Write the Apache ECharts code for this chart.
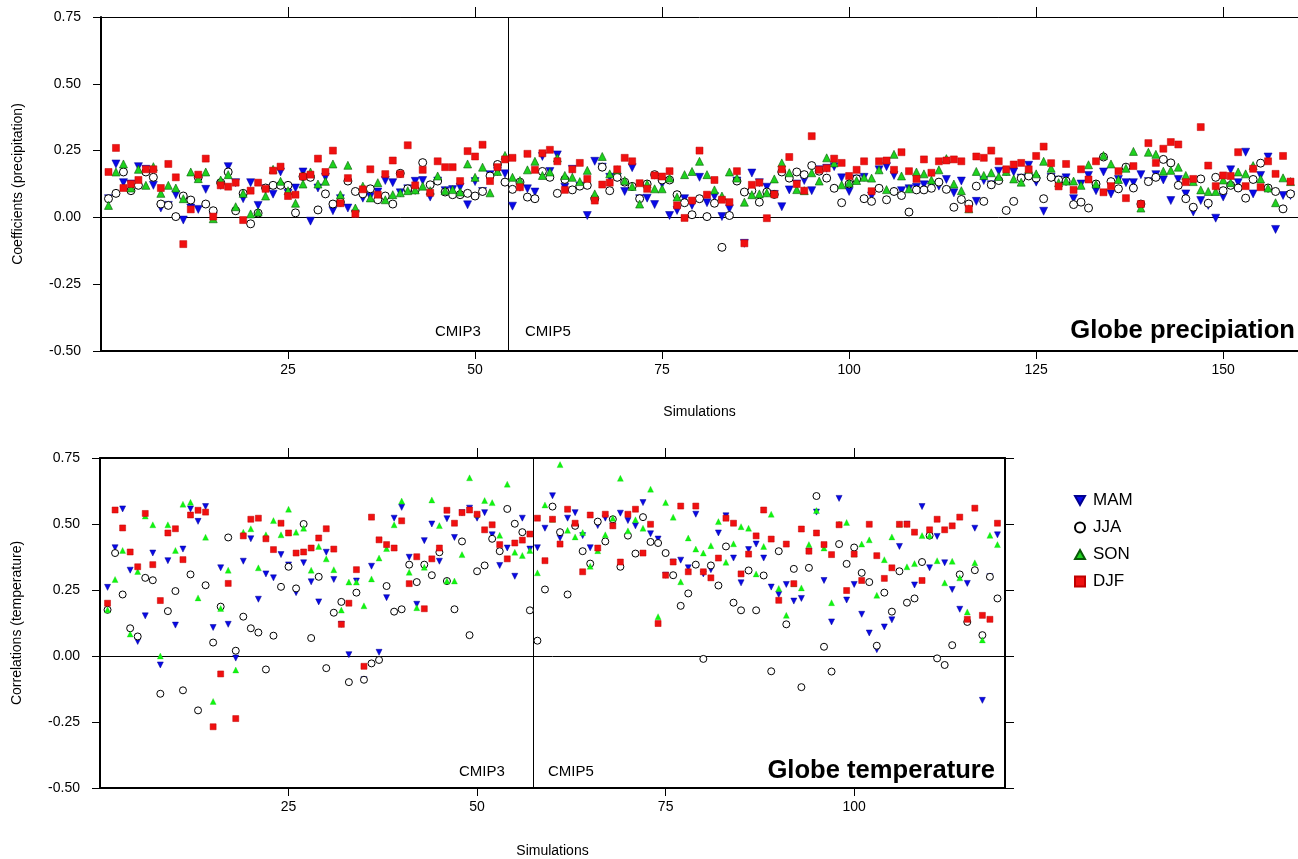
<!DOCTYPE html>
<html>
<head>
<meta charset="utf-8">
<title>Globe precipitation / temperature</title>
<script src="https://cdn.jsdelivr.net/npm/echarts@6/dist/echarts.min.js"></script>
<style>
  html, body { margin: 0; padding: 0; background: #fff; }
  #chart { width: 1298px; height: 859px; }
</style>
</head>
<body>
<div id="chart"></div>
<script>
// precipitation coefficients, simulations 1..159
var precipMAM = [0.07,0.20,0.13,0.125,0.19,0.18,0.12,0.035,0.045,0.085,-0.01,0.035,0.03,0.105,0.003,0.12,0.19,0.13,0.07,0.13,
  0.045,0.107,0.087,0.17,0.09,0.11,0.17,-0.014,0.11,0.15,0.025,0.07,0.035,0.013,0.072,0.078,0.095,0.138,0.13,0.092,
  0.107,0.135,0.138,0.076,0.136,0.10,0.104,0.113,0.047,0.134,0.097,0.16,0.172,0.163,0.042,0.113,0.107,0.095,0.228,0.172,
  0.234,0.113,0.18,0.117,0.007,0.21,0.188,0.15,0.15,0.097,0.186,0.07,0.072,0.048,0.125,0.007,0.026,0.07,0.045,0.15,
  0.055,0.078,0.003,0.032,0.136,-0.097,0.166,0.13,0.113,0.086,0.04,0.103,0.125,0.138,0.10,0.178,0.184,0.19,0.148,0.097,
  0.144,0.15,0.08,0.178,0.19,0.157,0.10,0.107,0.113,0.122,0.12,0.117,0.142,0.092,0.136,0.032,0.06,0.138,0.122,0.173,
  0.172,0.17,0.147,0.195,0.132,0.023,0.15,0.14,0.148,0.07,0.125,0.157,0.10,0.17,0.088,0.142,0.13,0.13,0.16,0.134,
  0.16,0.14,0.063,0.142,0.088,0.02,0.063,0.045,-0.003,0.076,0.178,0.13,0.244,0.088,0.157,0.226,-0.045,0.082,0.082];
var precipJJA = [0.07,0.09,0.17,0.10,0.12,0.17,0.15,0.05,0.045,0.003,0.08,0.065,0.15,0.05,0.025,0.13,0.17,0.025,0.09,-0.024,
  0.016,0.11,0.12,0.12,0.12,0.017,0.153,0.15,0.028,0.088,0.05,0.057,0.136,0.097,0.088,0.107,0.066,0.08,0.05,0.165,
  0.107,0.103,0.205,0.122,0.136,0.095,0.085,0.085,0.09,0.08,0.097,0.155,0.198,0.132,0.105,0.132,0.076,0.07,0.172,0.15,
  0.09,0.142,0.103,0.117,0.12,0.07,0.188,0.10,0.15,0.132,0.116,0.07,0.125,0.16,0.14,0.14,0.085,0.055,0.01,0.07,
  0.003,0.053,-0.112,0.007,0.136,0.095,0.10,0.057,0.095,0.086,0.17,0.147,0.17,0.16,0.194,0.173,0.147,0.109,0.055,0.125,
  0.144,0.07,0.06,0.109,0.066,0.097,0.082,0.02,0.103,0.103,0.109,0.132,0.105,0.038,0.067,0.05,0.117,0.06,0.122,0.138,
  0.026,0.06,0.147,0.155,0.147,0.07,0.15,0.14,0.136,0.048,0.057,0.035,0.125,0.226,0.134,0.107,0.188,0.11,0.05,0.134,
  0.15,0.217,0.204,0.12,0.07,0.038,0.144,0.053,0.15,0.10,0.12,0.11,0.072,0.142,0.203,0.11,0.097,0.032,0.088];
var precipSON = [0.045,0.17,0.20,0.11,0.18,0.12,0.19,0.09,0.12,0.11,0.07,0.17,0.145,0.17,-0.005,0.14,0.16,0.04,0.09,0.013,
  0.02,0.08,0.18,0.135,0.10,0.053,0.125,0.17,0.125,0.135,0.20,0.085,0.195,0.035,0.117,0.073,0.13,0.066,0.085,0.092,
  0.10,0.103,0.117,0.10,0.155,0.10,0.104,0.095,0.20,0.15,0.188,0.092,0.172,0.232,0.15,0.138,0.178,0.21,0.157,0.17,
  0.223,0.157,0.15,0.134,0.176,0.088,0.228,0.163,0.178,0.138,0.116,0.05,0.125,0.107,0.107,0.147,0.076,0.16,0.172,0.21,
  0.16,0.103,0.08,0.17,0.147,0.057,0.085,0.088,0.092,0.144,0.204,0.167,0.104,0.10,0.167,0.136,0.223,0.204,0.122,0.13,
  0.138,0.15,0.147,0.178,0.104,0.236,0.155,0.107,0.17,0.163,0.14,0.178,0.22,0.125,0.10,0.032,0.172,0.157,0.167,0.153,
  0.172,0.144,0.132,0.18,0.163,0.21,0.184,0.13,0.136,0.136,0.12,0.197,0.125,0.232,0.20,0.142,0.184,0.247,0.035,0.244,
  0.236,0.173,0.176,0.188,0.157,0.134,0.103,0.097,0.097,0.14,0.13,0.17,0.163,0.194,0.144,0.11,0.055,0.148,0.134];
var precipDJF = [0.17,0.26,0.11,0.125,0.14,0.18,0.18,0.11,0.20,0.15,-0.10,0.03,0.16,0.22,0.003,0.12,0.115,0.13,-0.01,0.10,
  0.13,0.107,0.175,0.19,0.08,0.085,0.153,0.16,0.22,0.17,0.25,0.053,0.147,0.013,0.105,0.18,0.085,0.162,0.213,0.162,
  0.27,0.12,0.178,0.092,0.21,0.188,0.188,0.136,0.248,0.228,0.272,0.136,0.188,0.217,0.223,0.113,0.238,0.178,0.24,0.253,
  0.21,0.103,0.18,0.204,0.144,0.063,0.123,0.13,0.18,0.223,0.21,0.128,0.107,0.157,0.153,0.173,0.045,-0.002,0.063,0.25,
  0.085,0.14,0.066,0.057,0.173,-0.097,0.122,0.13,-0.003,0.086,0.18,0.226,0.125,0.10,0.304,0.178,0.184,0.22,0.204,0.155,
  0.178,0.21,0.098,0.21,0.213,0.178,0.244,0.173,0.144,0.217,0.167,0.21,0.213,0.217,0.21,0.032,0.228,0.223,0.25,0.21,
  0.18,0.198,0.204,0.18,0.23,0.265,0.203,0.116,0.2,0.103,0.18,0.142,0.21,0.094,0.117,0.173,0.072,0.192,0.05,0.278,
  0.204,0.257,0.282,0.273,0.132,0.144,0.338,0.194,0.117,0.157,0.155,0.244,0.117,0.182,0.113,0.21,0.163,0.23,0.134];

// temperature correlations, simulations 1..119
var tempMAM = [0.26,0.41,0.557,0.325,0.055,0.152,0.39,-0.034,0.361,0.117,0.405,0.557,0.51,0.566,0.108,0.334,0.12,-0.008,0.359,0.444,
  0.215,0.311,0.296,0.384,0.345,0.24,0.353,0.281,0.205,0.393,0.29,0.12,0.005,0.284,-0.09,0.34,0.014,0.221,0.522,0.563,
  0.374,0.196,0.437,0.5,0.359,0.52,0.449,0.543,0.56,0.522,0.543,0.459,0.343,0.409,0.302,0.522,0.405,0.41,0.484,0.607,
  0.447,0.522,0.543,0.456,0.41,0.494,0.522,0.493,0.541,0.513,0.493,0.581,0.463,0.443,0.306,0.356,0.363,0.334,0.537,0.311,
  0.327,0.466,0.531,0.371,0.277,0.403,0.424,0.371,0.261,0.233,0.271,0.208,0.218,0.397,0.545,0.286,0.129,0.597,0.212,0.271,
  0.158,0.087,0.024,0.11,0.137,0.415,0.499,0.269,0.566,0.334,0.453,0.353,0.252,0.177,0.275,0.484,-0.168,0.3,0.459];
var tempJJA = [0.175,0.39,0.233,0.105,0.074,0.296,0.287,-0.143,0.17,0.246,-0.13,0.309,-0.206,0.268,0.051,0.187,0.449,0.02,0.149,0.105,
  0.089,-0.051,0.077,0.262,0.338,0.256,0.5,0.068,0.3,-0.046,0.164,0.205,-0.099,0.24,-0.09,-0.028,-0.015,0.265,0.168,0.177,
  0.346,0.28,0.346,0.306,0.393,0.284,0.177,0.434,0.079,0.321,0.343,0.444,0.397,0.557,0.501,0.469,0.173,0.058,0.252,0.566,
  0.469,0.233,0.493,0.397,0.35,0.509,0.434,0.518,0.338,0.456,0.388,0.526,0.432,0.428,0.39,0.306,0.19,0.237,0.346,-0.011,
  0.343,0.267,0.415,0.202,0.173,0.324,0.173,0.305,-0.058,0.397,0.12,0.33,-0.118,0.334,0.606,0.035,-0.059,0.424,0.349,0.411,
  0.315,0.28,0.039,0.24,0.168,0.321,0.202,0.218,0.356,0.456,-0.009,-0.034,0.041,0.309,0.129,0.325,0.079,0.3,0.218];
var tempSON = [0.175,0.29,0.4,0.083,0.32,0.53,0.497,0.0,0.497,0.4,0.575,0.582,0.22,0.45,-0.172,0.18,0.325,-0.053,0.469,0.482,
  0.334,0.459,0.513,0.459,0.556,0.469,0.484,0.325,0.415,0.368,0.327,0.174,0.28,0.28,0.19,0.292,0.371,0.407,0.497,0.587,
  0.317,0.183,0.336,0.591,0.494,0.284,0.284,0.384,0.675,0.537,0.589,0.581,0.457,0.651,0.393,0.381,0.4,0.315,0.572,0.518,
  0.725,0.476,0.451,0.468,0.34,0.399,0.459,0.522,0.673,0.474,0.516,0.484,0.632,0.149,0.581,0.526,0.281,0.447,0.405,0.39,
  0.418,0.509,0.355,0.425,0.49,0.484,0.311,0.415,0.537,0.256,0.154,0.274,0.258,0.422,0.551,0.409,0.202,0.5,0.506,0.386,
  0.424,0.44,0.23,0.365,0.451,0.499,0.338,0.35,0.456,0.456,0.361,0.277,0.359,0.296,0.167,0.353,0.061,0.457,0.422];
var tempDJF = [0.2,0.553,0.485,0.394,0.338,0.54,0.346,0.21,0.466,0.482,0.365,0.534,0.552,0.545,-0.268,-0.068,0.275,-0.237,0.455,0.518,
  0.522,0.444,0.403,0.503,0.466,0.39,0.394,0.409,0.447,0.482,0.405,0.12,0.2,0.327,-0.039,0.526,0.44,0.422,0.409,0.512,
  0.274,0.376,0.179,0.368,0.409,0.552,0.503,0.543,0.553,0.537,0.478,0.497,0.422,0.368,0.428,0.439,0.462,0.522,0.361,0.518,
  0.424,0.556,0.503,0.319,0.534,0.409,0.537,0.493,0.356,0.537,0.556,0.39,0.499,0.123,0.306,0.356,0.568,0.319,0.568,0.319,
  0.296,0.371,0.522,0.503,0.311,0.386,0.455,0.553,0.443,0.211,0.424,0.274,0.481,0.397,0.466,0.422,0.384,0.497,0.248,0.386,
  0.286,0.499,0.38,0.294,0.334,0.499,0.499,0.469,0.286,0.478,0.518,0.478,0.493,0.526,0.139,0.56,0.154,0.139,0.503];

var seasons = ['MAM', 'JJA', 'SON', 'DJF'];
var xTicks = [25, 50, 75, 100, 125, 150];
var splitPrecip = 54.5; // CMIP3 | CMIP5
var splitTemp = 57.5;

var chart = echarts.init(document.getElementById('chart'));

var FONT = '"Liberation Sans", Arial, sans-serif';
var downTri = 'path://M0,0L10,0L5,9Z';
var upTri = 'path://M5,0L10,9L0,9Z';

function pts(arr) {
  return arr.map(function (v, i) { return [i + 1, v]; });
}

function xAxes(grid, max, gap) {
  var ticks = xTicks.filter(function (t) { return t < max; });
  return [{
    gridIndex: grid, type: 'value', min: 0, max: max, interval: 25,
    position: 'bottom',
    name: 'Simulations', nameLocation: 'middle', nameGap: gap,
    nameTextStyle: { color: '#000', fontSize: 14, fontFamily: FONT },
    axisLine: { onZero: false, lineStyle: { color: '#000', width: 2 } },
    axisTick: { length: 8, customValues: ticks, lineStyle: { color: '#000', width: 1 } },
    axisLabel: { color: '#000', fontSize: 14, fontFamily: FONT, margin: 12, customValues: ticks },
    splitLine: { show: false }
  }, {
    gridIndex: grid, type: 'value', min: 0, max: max, interval: 25,
    position: 'top',
    axisLine: { onZero: false, lineStyle: { color: '#000', width: grid === 0 ? 1 : 2 } },
    axisTick: { length: 10, customValues: ticks, lineStyle: { color: '#000', width: 1 } },
    axisLabel: { show: false },
    splitLine: { show: false }
  }];
}

function yAxes(grid, name, rightAxis) {
  var ax = [{
    gridIndex: grid, type: 'value', min: -0.5, max: 0.75, interval: 0.25,
    name: name, nameLocation: 'middle', nameGap: 76,
    nameTextStyle: { color: '#000', fontSize: 14, fontFamily: FONT },
    axisLine: { onZero: false, lineStyle: { color: '#000', width: 2 } },
    axisTick: { length: 8, lineStyle: { color: '#000', width: 1 } },
    axisLabel: {
      color: '#000', fontSize: 14, fontFamily: FONT, margin: 20,
      formatter: function (v) { return v.toFixed(2); }
    },
    splitLine: { show: false }
  }];
  if (rightAxis) {
    ax.push({
      gridIndex: grid, type: 'value', min: -0.5, max: 0.75, interval: 0.25,
      position: 'right',
      axisLine: { onZero: false, lineStyle: { color: '#000', width: 2 } },
      axisTick: { length: 9, lineStyle: { color: '#000', width: 1 } },
      axisLabel: { show: false },
      splitLine: { show: false }
    });
  }
  return ax;
}

var styles = {
  MAM: { symbol: downTri, itemStyle: { color: '#0808e8', borderColor: '#000090', borderWidth: 0.5, opacity: 1 } },
  JJA: { symbol: 'circle', itemStyle: { color: '#fff', borderColor: '#000', borderWidth: 1, opacity: 1 } },
  SON: { symbol: upTri, itemStyle: { color: '#1ed21e', borderColor: '#075a07', borderWidth: 0.6, opacity: 1 } },
  DJF: { symbol: 'rect', itemStyle: { color: '#f01010', borderColor: '#c00000', borderWidth: 0.5, opacity: 1 } }
};
var sonBottom = { color: '#10f510', borderColor: '#10c810', borderWidth: 0.3, opacity: 1 };
var sizeTop = { MAM: 8, JJA: 8, SON: 8, DJF: 7 };
var sizeBot = { MAM: 6, JJA: 7, SON: 6, DJF: 6 };

var precip = { MAM: precipMAM, JJA: precipJJA, SON: precipSON, DJF: precipDJF };
var temp = { MAM: tempMAM, JJA: tempJJA, SON: tempSON, DJF: tempDJF };

function refLines(split) {
  return {
    silent: true, symbol: 'none', animation: false, z: 1,
    label: { show: false },
    lineStyle: { color: '#000', width: 1, type: 'solid', opacity: 1 },
    data: [{ yAxis: 0 }, { xAxis: split }]
  };
}

var series = [];
seasons.forEach(function (s, k) {
  var top = {
    name: s, type: 'scatter', xAxisIndex: 0, yAxisIndex: 0,
    symbol: styles[s].symbol, symbolSize: sizeTop[s],
    itemStyle: styles[s].itemStyle,
    data: pts(precip[s]), z: 3 + k
  };
  if (k === 0) top.markLine = refLines(splitPrecip);
  series.push(top);
});
seasons.forEach(function (s, k) {
  var bot = {
    name: s, type: 'scatter', xAxisIndex: 2, yAxisIndex: 1,
    symbol: styles[s].symbol, symbolSize: sizeBot[s],
    itemStyle: s === 'SON' ? sonBottom : styles[s].itemStyle,
    data: pts(temp[s]), z: 3 + k
  };
  if (k === 0) bot.markLine = refLines(splitTemp);
  series.push(bot);
});

chart.setOption({
  backgroundColor: '#fff',
  animation: false,
  textStyle: { fontFamily: FONT },
  grid: [
    { left: 101, top: 17, width: 1197, height: 334 },
    { left: 100, top: 458, width: 905, height: 332 }
  ],
  xAxis: xAxes(0, 160, 54).concat(xAxes(1, 120, 56)),
  yAxis: yAxes(0, 'Coefficients (precipitation)', false).concat(yAxes(1, 'Correlations (temperature)', true)),
  legend: {
    orient: 'vertical', left: 1069, top: 487, itemGap: 10,
    itemWidth: 10, itemHeight: 10,
    textStyle: { color: '#000', fontSize: 17, fontFamily: FONT, padding: [0, 0, 0, 3] },
    data: [
      { name: 'MAM', icon: downTri },
      { name: 'JJA', icon: 'circle' },
      { name: 'SON', icon: upTri },
      { name: 'DJF', icon: 'rect' }
    ]
  },
  graphic: [
    { type: 'text', left: 435, top: 324, style: { text: 'CMIP3', fill: '#000', font: '15px ' + FONT } },
    { type: 'text', left: 525, top: 324, style: { text: 'CMIP5', fill: '#000', font: '15px ' + FONT } },
    { type: 'text', right: 3, top: 318, style: { text: 'Globe precipiation', fill: '#000', font: 'bold 25.6px ' + FONT } },
    { type: 'text', left: 459, top: 764, style: { text: 'CMIP3', fill: '#000', font: '15px ' + FONT } },
    { type: 'text', left: 548, top: 764, style: { text: 'CMIP5', fill: '#000', font: '15px ' + FONT } },
    { type: 'text', right: 303, top: 758, style: { text: 'Globe temperature', fill: '#000', font: 'bold 25.6px ' + FONT } }
  ],
  series: series
});
</script>
</body>
</html>
